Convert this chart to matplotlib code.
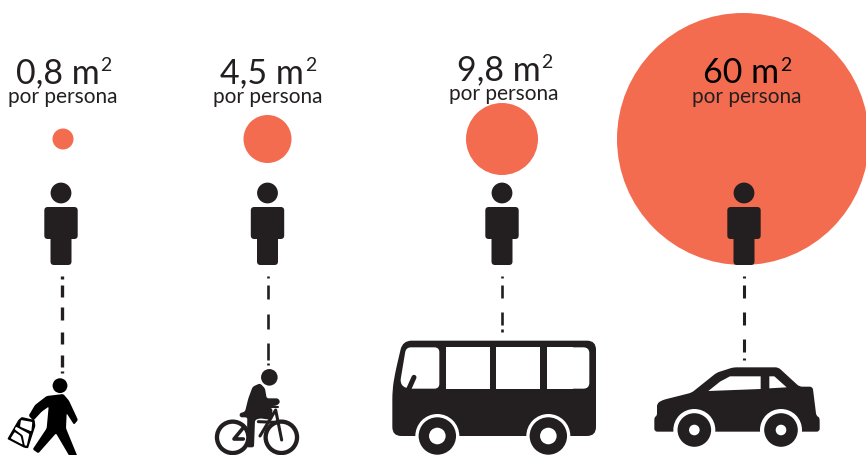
import matplotlib
matplotlib.use('Agg')
import matplotlib.pyplot as plt
from matplotlib.patches import Circle, Polygon, PathPatch, FancyBboxPatch
from matplotlib.path import Path
import numpy as np

# values
labels = ['0,8 m', '4,5 m', '9,8 m', '60 m']
sublabel = 'por persona'
radii = [10.5, 24, 36, 126]
circle_x = [63, 267.5, 502, 743]
person_x = [61, 267.5, 502, 744]
label_x = [15.5, 220.5, 457, 703]
label_y = [83, 83, 80, 83]
sub_x = [63, 267.5, 504, 747]
label_col = ['#231f20', '#231f20', '#231f20', '#000000']

ORANGE = '#f46c4f'
DARK = '#231f20'

plt.rcParams['font.family'] = ['Lato', 'DejaVu Sans']

fig = plt.figure(figsize=(8.66, 4.55), dpi=100)
ax = fig.add_axes([0, 0, 1, 1])
ax.set_xlim(0, 866)
ax.set_ylim(455, 0)
ax.axis('off')


def z(pts, ox, oy):
    # points measured on a 3x crop -> image pixels
    return [(ox + p[0] / 3, oy + p[1] / 3) for p in pts]


def rpoly(pts, r, color=DARK, zo=3):
    # closed polygon with its corners rounded by r pixels
    pts = np.array(pts, dtype=float)
    n = len(pts)
    verts, codes = [], []
    for i in range(n):
        p = pts[i]
        a = pts[i - 1]
        b = pts[(i + 1) % n]
        ra = min(r, np.linalg.norm(a - p) / 2)
        rb = min(r, np.linalg.norm(b - p) / 2)
        p0 = p + (a - p) / np.linalg.norm(a - p) * ra
        p1 = p + (b - p) / np.linalg.norm(b - p) * rb
        verts.append(p0)
        codes.append(Path.MOVETO if i == 0 else Path.LINETO)
        verts += [p, p1]
        codes += [Path.CURVE3, Path.CURVE3]
    verts.append(verts[0])
    codes.append(Path.CLOSEPOLY)
    ax.add_patch(PathPatch(Path(verts, codes), fc=color, ec='none', zorder=zo))


def rbox(x0, y0, x1, y1, r, color=DARK, zo=3):
    ax.add_patch(FancyBboxPatch((x0 + r, y0 + r), x1 - x0 - 2 * r, y1 - y0 - 2 * r,
                                boxstyle='round,pad=%f' % r, fc=color, ec='none', zorder=zo))


def person(x):
    ax.add_patch(Circle((x, 193), 10.4, fc=DARK, ec='none', zorder=3))
    rbox(x - 16.7, 207, x + 16.7, 239, 3.5)
    rbox(x - 10.5, 225, x + 10.5, 265, 3.5)


def dashes(x, segs, lw):
    for a, b in segs:
        ax.plot([x, x], [a, b], color=DARK, lw=lw, solid_capstyle='butt', zorder=2)


def stroke(pts, lw, color=DARK, zo=3):
    xs = [p[0] for p in pts]
    ys = [p[1] for p in pts]
    ax.plot(xs, ys, color=color, lw=lw, solid_capstyle='round', solid_joinstyle='round', zorder=zo)


def wheel(cx, cy, r_ring, r_out, r_hub):
    ax.add_patch(Circle((cx, cy), r_ring, fc='white', ec='none', zorder=4))
    ax.add_patch(Circle((cx, cy), r_out, fc=DARK, ec='none', zorder=5))
    ax.add_patch(Circle((cx, cy), r_hub, fc='white', ec='none', zorder=6))


def walker():
    ox, oy = 0, 370
    ax.add_patch(Circle(z([(180, 47)], ox, oy)[0], 7.4, fc='black', ec='none', zorder=3))
    body = [(86, 137), (105, 105), (140, 78), (190, 72), (207, 92), (234, 150), (222, 164), (200, 130),
            (198, 175), (232, 258), (208, 258), (168, 190), (115, 250), (98, 238), (140, 175), (146, 110),
            (125, 125), (100, 152)]
    rpoly(z(body, ox, oy), 1.5, 'black')
    bag = [(22, 207), (55, 150), (65, 141), (104, 150), (106, 168), (84, 235), (72, 233)]
    rpoly(z(bag, ox, oy), 1, 'black')
    rpoly(z([(63, 150), (97, 156), (94, 184), (84, 180), (60, 170)], ox, oy), 1, 'white', 4)
    rpoly(z([(32, 205), (44, 186), (62, 198), (68, 224)], ox, oy), 1, 'white', 4)
    rpoly(z([(48, 170), (88, 192), (80, 228), (74, 226), (68, 196), (44, 178)], ox, oy), 1, 'white', 4)


def cyclist():
    ox, oy = 210, 365
    ax.add_patch(Circle(z([(178, 37)], ox, oy)[0], 8.3, fc=DARK, ec='none', zorder=3))
    for c in [(68, 217), (214, 217)]:
        ax.add_patch(Circle(z([c], ox, oy)[0], 15.7, fc='none', ec=DARK, lw=3.1, zorder=3))
    torso = [(128, 65), (150, 55), (165, 70), (170, 100), (205, 100), (211, 112), (200, 122), (165, 125),
             (187, 130), (187, 165), (150, 160), (135, 165), (132, 247), (110, 247), (112, 157), (90, 157),
             (88, 145), (105, 140), (115, 100)]
    rpoly(z(torso, ox, oy), 2)
    stroke(z([(150, 213), (197, 135), (215, 225)], ox, oy), 2.2)
    stroke(z([(145, 170), (195, 172)], ox, oy), 2.2)
    stroke(z([(100, 188), (72, 222), (100, 222)], ox, oy), 2.6)
    stroke(z([(165, 125), (205, 125)], ox, oy), 1.5)


def bus():
    ox, oy = 380, 170
    shell = [(68, 512), (648, 512), (648, 798), (37, 798), (37, 660), (45, 610)]
    rpoly(z(shell, ox, oy), 9)
    first = [(78, 532), (178, 532), (178, 656), (78, 656), (60, 640)]
    rpoly(z(first, ox, oy), 5, 'white', 4)
    for a, b in [(198, 329), (349, 480), (500, 580)]:
        ax.add_patch(Polygon(z([(a, 532), (b, 532), (b, 656), (a, 656)], ox, oy), fc='white', ec='none', zorder=4))
    rpoly(z([(540, 532), (628, 532), (628, 656), (540, 656)], ox, oy), 6, 'white', 4)
    stroke(z([(102, 622), (85, 660)], ox, oy), 3.6, zo=5)
    for c in [(172, 798), (505, 798)]:
        cx, cy = z([c], ox, oy)[0]
        wheel(cx, cy, 22, 18.7, 8.3)


def car():
    ox, oy = 380, 170
    shell = [(823, 741), (831, 738), (831, 700), (848, 690), (935, 668), (1010, 608), (1060, 592),
             (1195, 592), (1258, 650), (1298, 650), (1309, 738), (1319, 742), (1319, 785), (823, 785)]
    rpoly(z(shell, ox, oy), 3)
    win1 = [(985, 663), (1020, 635), (1050, 619), (1142, 619), (1142, 657)]
    win2 = [(1168, 619), (1183, 619), (1220, 652), (1168, 655)]
    ax.add_patch(Polygon(z(win1, ox, oy), fc='white', ec='none', zorder=4))
    ax.add_patch(Polygon(z(win2, ox, oy), fc='white', ec='none', zorder=4))
    for c in [(943, 780), (1203, 780)]:
        cx, cy = z([c], ox, oy)[0]
        wheel(cx, cy, 21, 16.8, 5.3)


for x, r in zip(circle_x, radii):
    ax.add_patch(Circle((x, 139), r, fc=ORANGE, ec='none', zorder=1))

for x in person_x:
    person(x)

for x, y, sx, lab, col in zip(label_x, label_y, sub_x, labels, label_col):
    t = ax.text(x, y, lab, fontsize=24.5, color=col, ha='left', va='baseline', zorder=7)
    ax.annotate('2', xy=(1, 0), xycoords=t, xytext=(0.5, 13), textcoords='offset points',
                fontsize=14, color=col, ha='left', va='baseline', zorder=7)
    ax.text(sx, y + 20, sublabel, fontsize=15, color=DARK, ha='center', va='baseline', zorder=7)

dashes(61.5, [(276, 278.5), (285, 297), (307, 320), (332, 343.5), (355, 367), (371, 373)], 2.4)
dashes(267.7, [(276, 278), (285, 299), (314, 329), (343, 360), (363, 364.5)], 1.9)
dashes(502, [(276, 278), (285, 298), (312, 325), (329, 331.5)], 1.9)
dashes(743.5, [(276, 278), (285, 298), (312, 325), (339, 352), (358, 360)], 2.2)

walker()
cyclist()
bus()
car()

fig.savefig('out.png', dpi=100, facecolor='white')
